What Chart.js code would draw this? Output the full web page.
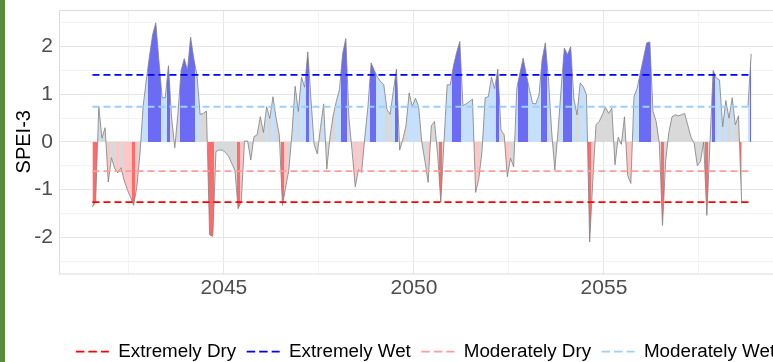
<!DOCTYPE html>
<html>
<head>
<meta charset="utf-8">
<script src="https://cdn.jsdelivr.net/npm/chart.js@4.4.0/dist/chart.umd.min.js"></script>
<style>
  html, body { margin: 0; padding: 0; background: #fff; overflow: hidden; width: 773px; height: 362px; }
  #wrap { position: relative; width: 858px; height: 371px; }
  #edge { position: absolute; left: 0; top: 0; width: 5px; height: 362px; background: #5a8a3a; }
</style>
</head>
<body>
<div id="wrap"><canvas id="speiChart" width="858" height="371"></canvas></div>
<div id="edge"></div>
<script>
// monthly SPEI-3, first month ~ Jul 2041
const firstMonth = 2041.54;
const spei = [
  -1.36, -1.26, 0.74, 0.08, 0.30, -0.84, -0.33, -0.55, -0.65, -0.54,
  -0.8, -1.0, -1.15, -1.33, -0.95, -0.25, 0.75, 1.3, 1.8, 2.25,
  2.5, 1.7, 0.93, 0.93, 1.6, 0.5, -0.12, 0.6, 1.5, 1.75,
  1.5, 2.2, 1.75, 1.4, 0.58, 0.6, 0.65, -1.95, -1.98, -0.2,
  -0.17, -0.17, -0.22, -0.3, -0.45, -0.6, -1.4, -1.25, 0.02, 0.02,
  -0.38, 0.11, 0.15, 0.53, 0.2, 0.74, 0.49, 0.95, 0.5, 0.15,
  -1.33, -0.95, -0.6, 0.18, 1.17, 0.64, 1.36, 1.15, 1.89, 0.9,
  -0.05, -0.25, 0.3, 0.8, -0.57, 0.1, 0.55, 0.85, 1.1, 1.85,
  2.17, 0.5, -0.2, -0.94, -0.58, -0.64, 0.1, 0.75, 1.66, 1.5,
  1.36, 1.27, 1.2, 0.68, 0.58, 1.06, 1.53, -0.17, 0.05, 0.34,
  1.03, 0.74, 0.92, 0.74, 0.0, -0.41, -0.85, 0.34, 0.43, -0.27,
  -1.26, 0.0, 1.2, 1.2, 1.6, 1.88, 2.11, 0.76, 0.8, 0.85,
  0.9, -1.06, -0.77, -0.2, 0.93, 0.95, 1.36, 1.12, 1.53, 0.25,
  0.15, -0.73, -0.34, -0.52, 1.13, 1.45, 1.76, 1.41, 1.1, 0.81,
  0.8, 0.99, 1.73, 2.08, 1.3, 0.22, -0.59, 0.22, 1.13, 1.97,
  1.83, 2.0, 0.92, 0.57, 1.24, 1.16, 0.99, -2.1, -0.8, 0.36,
  0.43, 0.57, 0.73, 0.6, 0.71, -0.48, 0.1, -0.05, 0.53, -0.7,
  -0.87, 0.95, 1.13, 1.45, 1.76, 2.08, 2.1, 0.64, 0.43, -0.03,
  -1.75, -0.4, 0.2, 0.53, 0.57, 0.55, 0.57, 0.6, 0.35, 0.1,
  -0.03, -0.5, -0.41, 0.0, -1.54, 0.0, 1.5, 1.34, 1.3, 0.32,
  0.87, 0.5, 0.93, 0.36, 0.55, -1.29, null, 0.76, 1.85
];

const thresholdLabels = ['Extremely Dry', 'Extremely Wet', 'Moderately Dry', 'Moderately Wet'];
const thresholdValues = [-1.26, 1.41, -0.61, 0.74];
const thresholdColors = ['#ff0000', '#0000ff', '#ff9c9c', '#9ccfff'];
const xTickLabels = [2045, 2050, 2055];
const yTickLabels = [-2, -1, 0, 1, 2];

const months = spei.map((_, i) => firstMonth + i / 12);

const tickColor = '#4d4d4d';
const majorGrid = '#e6e6e6';
const minorGrid = '#f3f3f3';

function fillColour(v) {
  if (v >= thresholdValues[1]) return '#6b6bf6';
  if (v >= thresholdValues[3]) return '#c6dffa';
  if (v <= thresholdValues[0]) return '#ff6b6b';
  if (v <= thresholdValues[2]) return '#ffc6c6';
  return '#d9d9d9';
}

// one strip of colour per month, half a month either side of it
function monthStrips(c) {
  const chart = c.chart;
  const area = chart.chartArea;
  if (!area) return '#d9d9d9';
  const xs = chart.scales.x;
  const w = area.right - area.left;
  const pos = v => Math.min(1, Math.max(0, (xs.getPixelForValue(v) - area.left) / w));
  const edges = months.map(m => pos(m - 1 / 24));
  edges.push(pos(months[months.length - 1] + 1 / 24));
  const g = chart.ctx.createLinearGradient(area.left, 0, area.right, 0);
  spei.forEach((v, i) => {
    const col = v == null ? 'rgba(255,255,255,0)' : fillColour(v);
    g.addColorStop(edges[i], col);
    g.addColorStop(edges[i + 1], col);
  });
  return g;
}

const thresholdSets = thresholdLabels.map((name, i) => ({
  label: name,
  data: [{ x: months[0], y: thresholdValues[i] }, { x: months[months.length - 1], y: thresholdValues[i] }],
  borderColor: thresholdColors[i],
  borderWidth: 1.8,
  borderDash: [7, 4],
  pointRadius: 0,
  fill: false
}));

const seriesSet = {
  label: 'SPEI-3',
  data: months.map((m, i) => ({ x: m, y: spei[i] })),
  borderColor: '#7f7f7f',
  borderWidth: 0.8,
  pointRadius: 0,
  tension: 0,
  spanGaps: false,
  fill: 'origin',
  backgroundColor: monthStrips
};

const panelBorder = {
  id: 'panelBorder',
  beforeDatasetsDraw(chart) {
    const { ctx, chartArea: a } = chart;
    ctx.save();
    ctx.strokeStyle = '#dcdcdc';
    ctx.lineWidth = 1;
    ctx.strokeRect(a.left + 0.5, a.top + 0.5, a.right - a.left, a.bottom - a.top);
    ctx.restore();
  }
};

const ctx = document.getElementById('speiChart').getContext('2d');

new Chart(ctx, {
  type: 'line',
  data: { datasets: [...thresholdSets, seriesSet] },
  options: {
    responsive: false,
    animation: false,
    layout: { padding: { top: 10, right: 7, left: 0, bottom: 0 } },
    plugins: {
      tooltip: { enabled: false },
      legend: {
        position: 'bottom',
        labels: {
          usePointStyle: true,
          pointStyleWidth: 33,
          padding: 10.5,
          color: '#000',
          font: { family: 'Liberation Sans', size: 18.8 },
          generateLabels: chart => thresholdLabels.map((name, i) => ({
            text: name,
            strokeStyle: thresholdColors[i],
            fillStyle: thresholdColors[i],
            lineWidth: 1.8,
            lineDash: [8.5, 4],
            pointStyle: 'line',
            datasetIndex: i,
            hidden: false
          }))
        }
      }
    },
    scales: {
      x: {
        type: 'linear',
        min: 2040.66,
        max: 2061.5,
        afterFit: s => { s.height = 58.2; s.paddingLeft = 0; s.paddingRight = 0; },
        border: { display: false },
        grid: {
          drawTicks: false,
          color: c => (c.tick && xTickLabels.includes(c.tick.value)) ? majorGrid : minorGrid
        },
        ticks: {
          stepSize: 2.5,
          includeBounds: false,
          autoSkip: false,
          maxRotation: 0,
          padding: 2,
          color: tickColor,
          font: { family: 'Liberation Sans', size: 21 },
          callback: v => xTickLabels.includes(v) ? String(v) : ''
        }
      },
      y: {
        min: -2.76,
        max: 2.77,
        afterFit: s => { s.width = 59; s.paddingTop = 0; s.paddingBottom = 0; },
        border: { display: false },
        grid: {
          drawTicks: false,
          color: c => (c.tick && yTickLabels.includes(c.tick.value)) ? majorGrid : minorGrid
        },
        ticks: {
          stepSize: 0.5,
          includeBounds: false,
          autoSkip: false,
          padding: 6,
          color: tickColor,
          font: { family: 'Liberation Sans', size: 21 },
          callback: v => yTickLabels.includes(v) ? String(v) : ''
        },
        title: {
          display: true,
          text: 'SPEI-3',
          color: '#000',
          font: { family: 'Liberation Sans', size: 20 },
          padding: { top: 12.5, bottom: 0 }
        }
      }
    }
  },
  plugins: [panelBorder]
});
</script>
</body>
</html>
